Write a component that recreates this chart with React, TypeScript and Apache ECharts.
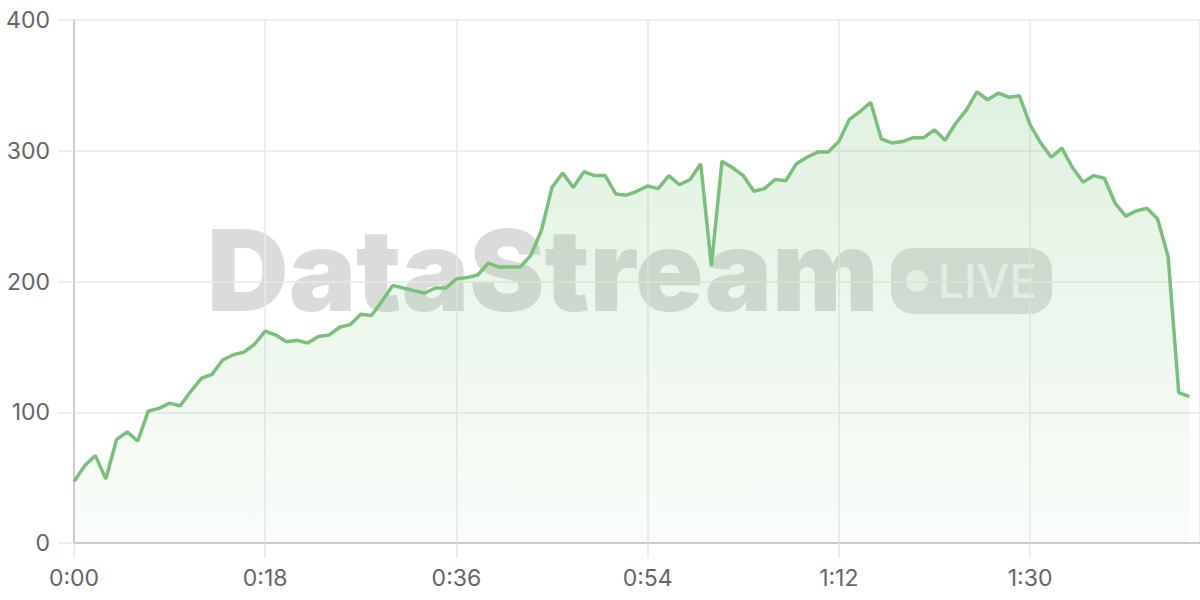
import React, { useEffect, useRef } from "react";
import * as echarts from "echarts";

// seconds since start
const seconds: number[] = Array.from({ length: 106 }, (_, i) => i);

const values: number[] = [
  47, 59, 67, 49, 79, 85, 78, 101, 103, 107,
  105, 116, 126, 129, 140, 144, 146, 152, 162, 159,
  154, 155, 153, 158, 159, 165, 167, 175, 174, 185,
  197, 195, 193, 191, 195, 195, 202, 203, 205, 214,
  211, 211, 211, 220, 239, 272, 283, 272, 284, 281,
  281, 267, 266, 269, 273, 271, 281, 274, 278, 290,
  212, 292, 287, 281, 269, 271, 278, 277, 290, 295,
  299, 299, 307, 324, 330, 337, 309, 306, 307, 310,
  310, 316, 308, 321, 331, 345, 339, 344, 341, 342,
  320, 306, 295, 302, 287, 276, 281, 279, 260, 250,
  254, 256, 248, 219, 115, 112,
];

const yTicks: number[] = [0, 100, 200, 300, 400];

const fmtTime = (v: number) => {
  const m = Math.floor(v / 60);
  const s = Math.round(v % 60);
  return `${m}:${s < 10 ? "0" + s : s}`;
};

export default function App() {
  const ref = useRef<HTMLDivElement>(null);
  useEffect(() => {
    document.body.style.margin = "0";
    if (!ref.current) return;
    const chart = echarts.init(ref.current, undefined, { renderer: "svg" });
    const font = "Inter, 'Noto Sans', sans-serif";
    chart.setOption({
      animation: false,
      grid: { left: 74, right: 0, top: 20, bottom: 57, containLabel: false },
      graphic: [
        {
          type: "group",
          z: 0,
          silent: true,
          children: [
            {
              type: "text",
              x: 207,
              y: 270,
              style: {
                text: "DataStream",
                font: `900 113px ${font}`,
                fill: "rgba(0,0,0,0.14)",
                textVerticalAlign: "middle",
                textAlign: "left",
              },
            },
            {
              type: "rect",
              shape: { x: 891, y: 248, width: 161, height: 66, r: 22 },
              style: { fill: "rgba(0,0,0,0.13)" },
            },
            {
              type: "circle",
              shape: { cx: 917, cy: 281, r: 11 },
              style: { fill: "rgba(255,255,255,0.7)" },
            },
            {
              type: "text",
              x: 938,
              y: 281,
              style: {
                text: "LIVE",
                font: `500 46px ${font}`,
                fill: "rgba(255,255,255,0.7)",
                textVerticalAlign: "middle",
                textAlign: "left",
              },
            },
          ],
        },
      ],
      xAxis: {
        type: "value",
        min: 0,
        max: 106,
        interval: 18,
        axisLine: { show: true, lineStyle: { color: "#cccccc", width: 2 } },
        axisTick: { show: true, length: 15, lineStyle: { color: "#e6e6e6", width: 1.5 } },
        axisLabel: {
          color: "#666666",
          fontSize: 23,
          fontFamily: font,
          margin: 23,
          formatter: (v: number) => fmtTime(v),
          showMaxLabel: false,
        },
        splitLine: { show: true, lineStyle: { color: "#e8e8e8", width: 1.5 } },
      },
      yAxis: {
        type: "value",
        min: yTicks[0],
        max: yTicks[yTicks.length - 1],
        interval: 100,
        axisLine: { show: true, lineStyle: { color: "#cccccc", width: 2 } },
        axisTick: { show: true, length: 16, lineStyle: { color: "#e8e8e8", width: 1.5 } },
        axisLabel: { color: "#666666", fontSize: 23, fontFamily: font, margin: 24 },
        splitLine: { show: true, lineStyle: { color: "#e8e8e8", width: 1.5 } },
      },
      series: [
        {
          type: "line",
          data: seconds.map((s, i) => [s, values[i]]),
          showSymbol: false,
          symbol: "none",
          lineStyle: { color: "#7bbf7d", width: 3.5 },
          itemStyle: { color: "#7bbf7d" },
          areaStyle: {
            color: new echarts.graphic.LinearGradient(0, 0, 0, 1, [
              { offset: 0, color: "rgba(129,199,132,0.35)" },
              { offset: 1, color: "rgba(129,199,132,0.06)" },
            ]),
          },
          z: 3,
        },
      ],
    });
    return () => chart.dispose();
  }, []);
  return <div ref={ref} style={{ width: 1200, height: 600 }} />;
}
